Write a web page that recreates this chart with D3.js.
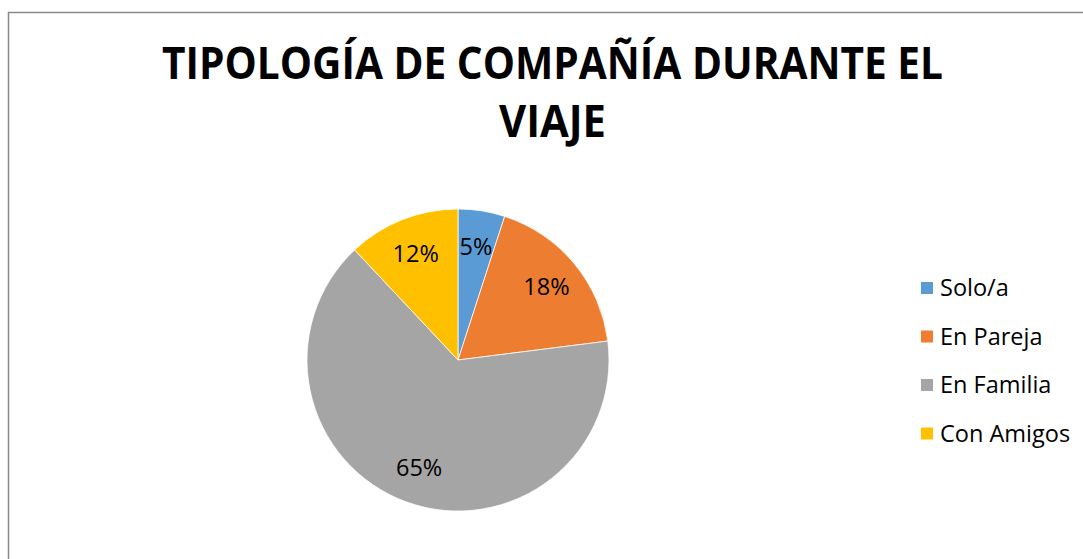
<!DOCTYPE html>
<html>
<head>
<meta charset="utf-8">
<script src="https://cdn.jsdelivr.net/npm/d3@7"></script>
<style>
  body { margin: 0; background: #fff; }
  svg { display: block; font-family: "Open Sans", sans-serif; }
</style>
</head>
<body>
<div id="chart"></div>
<script>
// Chart data
var categories = ["Solo/a", "En Pareja", "En Familia", "Con Amigos"],
  shares = [5, 18, 65, 12],
  colors = ["#5B9BD5", "#ED7D31", "#A5A5A5", "#FFC000"];

var titleLines = ["TIPOLOGÍA DE COMPAÑÍA DURANTE EL", "VIAJE"];

// Placement
var width = 1083,
  height = 559,
  cx = 458,
  cy = 360,
  radius = 151,
  legendX = 921,
  legendY = 282,
  legendStep = 48.5;

var svg = d3.select("#chart")
  .append("svg")
  .attr("width", width)
  .attr("height", height);

svg.append("rect")
  .attr("width", width)
  .attr("height", height)
  .attr("fill", "#fff");

// chart area border (runs off the right/bottom edge)
svg.append("rect")
  .attr("x", 8.5)
  .attr("y", 12.5)
  .attr("width", 1200)
  .attr("height", 700)
  .attr("fill", "none")
  .attr("stroke", "#898989")
  .attr("stroke-width", 1.5);

// Title
svg.selectAll(".title")
  .data(titleLines)
  .enter().append("text")
  .attr("class", "title")
  .attr("x", function(d, i) { return i === 0 ? 162 : 499; })
  .attr("y", function(d, i) { return 79 + i * 58; })
  .attr("textLength", function(d, i) { return i === 0 ? 781 : 107; })
  .attr("lengthAdjust", "spacingAndGlyphs")
  .attr("font-size", 44)
  .attr("font-weight", "bold")
  .attr("fill", "#000")
  .text(function(d) { return d; });

// Pie
var pie = d3.pie().sort(null).value(function(d) { return d; });
var arc = d3.arc().innerRadius(0).outerRadius(radius);
var labelArc = d3.arc().innerRadius(radius * 0.76).outerRadius(radius * 0.76);
var total = d3.sum(shares);

var pieG = svg.append("g")
  .attr("transform", "translate(" + cx + "," + cy + ")");

var slices = pieG.selectAll(".slice")
  .data(pie(shares))
  .enter().append("g")
  .attr("class", "slice");

slices.append("path")
  .attr("d", arc)
  .attr("fill", function(d, i) { return colors[i]; })
  .attr("stroke", "#fff")
  .attr("stroke-width", 0.75);

slices.append("text")
  .attr("transform", function(d) { return "translate(" + labelArc.centroid(d) + ")"; })
  .attr("text-anchor", "middle")
  .attr("dy", "0.36em")
  .attr("font-size", 23.5)
  .attr("fill", "#000")
  .text(function(d) { return d3.format(".0f")(d.value / total * 100) + "%"; });

// Legend
var legend = svg.selectAll(".legend")
  .data(categories)
  .enter().append("g")
  .attr("class", "legend")
  .attr("transform", function(d, i) { return "translate(" + legendX + "," + (legendY + i * legendStep) + ")"; });

legend.append("rect")
  .attr("width", 12)
  .attr("height", 12)
  .attr("fill", function(d, i) { return colors[i]; });

legend.append("text")
  .attr("x", 19)
  .attr("y", 6)
  .attr("dy", "0.36em")
  .attr("font-size", 23.5)
  .attr("fill", "#000")
  .text(function(d) { return d; });
</script>
</body>
</html>
